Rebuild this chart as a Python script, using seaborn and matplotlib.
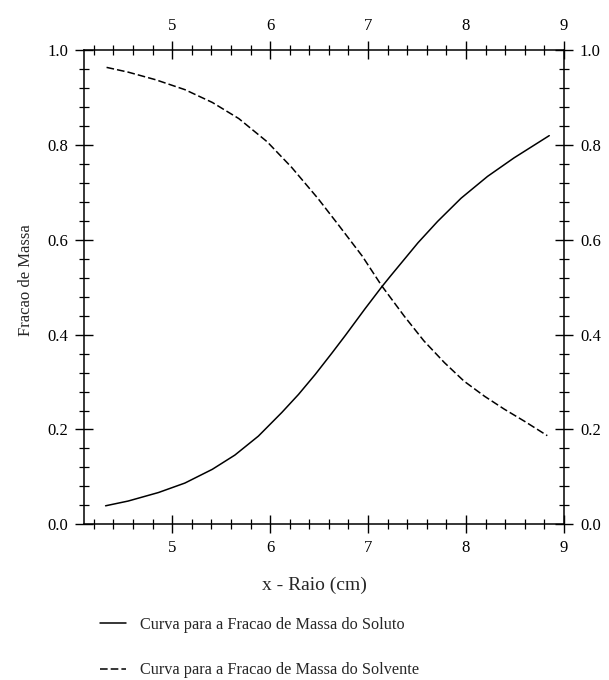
import numpy as np
import pandas as pd
import matplotlib
matplotlib.use("Agg")
import matplotlib.pyplot as plt
import seaborn as sns
from matplotlib.ticker import MultipleLocator

# ---- data ----
soluto_x = [4.32, 4.55, 4.86, 5.13, 5.41, 5.64, 5.88, 6.12, 6.29, 6.46, 6.63, 6.77,
            6.97, 7.14, 7.23, 7.51, 7.71, 7.95, 8.22, 8.49, 8.85]
soluto_y = [0.039, 0.049, 0.067, 0.087, 0.116, 0.146, 0.186, 0.236, 0.274, 0.316, 0.361, 0.399,
            0.455, 0.501, 0.524, 0.594, 0.639, 0.688, 0.734, 0.773, 0.820]

solvente_x = [4.33, 4.55, 4.83, 5.13, 5.41, 5.68, 5.97, 6.22, 6.49, 6.70, 6.94, 7.14,
              7.37, 7.57, 7.78, 7.98, 8.19, 8.39, 8.60, 8.83]
solvente_y = [0.964, 0.954, 0.938, 0.917, 0.890, 0.856, 0.807, 0.753, 0.687, 0.631, 0.566, 0.503,
              0.439, 0.387, 0.341, 0.302, 0.270, 0.243, 0.217, 0.187]

label_soluto = "Curva para a Fracao de Massa do Soluto"
label_solvente = "Curva para a Fracao de Massa do Solvente"
x_label = "x - Raio (cm)"
y_label = "Fracao de Massa"

sns.set_style("white")
plt.rcParams["font.family"] = ["Liberation Serif", "DejaVu Serif"]

fig = plt.figure(figsize=(6.09, 6.8), dpi=100)
ax = fig.add_axes([0.138, 0.229, 0.788, 0.697])

df_sol = pd.DataFrame({"x": soluto_x, "y": soluto_y})
df_solv = pd.DataFrame({"x": solvente_x, "y": solvente_y})

sns.lineplot(data=df_sol, x="x", y="y", ax=ax, color="black", lw=1.1,
             sort=False, label=label_soluto, solid_joinstyle="round")
sns.lineplot(data=df_solv, x="x", y="y", ax=ax, color="black", lw=1.1,
             sort=False, label=label_solvente, linestyle=(0, (5, 2)),
             dash_joinstyle="round")

ax.set_xlim(4.1, 9.0)
ax.set_ylim(0.0, 1.0)
ax.xaxis.set_major_locator(MultipleLocator(1))
ax.xaxis.set_minor_locator(MultipleLocator(0.2))
ax.yaxis.set_major_locator(MultipleLocator(0.2))
ax.yaxis.set_minor_locator(MultipleLocator(0.04))
ax.yaxis.set_major_formatter(matplotlib.ticker.FormatStrFormatter("%.1f"))

ax.tick_params(which="both", direction="inout", top=True, right=True,
               bottom=True, left=True,
               labeltop=True, labelright=True, labelbottom=True, labelleft=True,
               labelsize=12, colors="black")
ax.tick_params(which="major", length=13, width=1.0, pad=5)
ax.tick_params(which="minor", length=6.5, width=0.9)

for s in ax.spines.values():
    s.set_visible(True)
    s.set_color("black")
    s.set_linewidth(1.1)

ax.set_xlabel(x_label, fontsize=14)
ax.xaxis.set_label_coords(0.481, -0.129)
ax.xaxis.label.set_va("center")
ax.set_ylabel(y_label, fontsize=12)
ax.yaxis.set_label_coords(-0.12, 0.515)
ax.yaxis.label.set_va("center")

ax.get_legend().remove()
handles, labels = ax.get_legend_handles_labels()
fig.legend(handles, labels, loc="upper left",
           bbox_to_anchor=(100 / 609, 1 - 617 / 680), frameon=False,
           borderaxespad=0, borderpad=0, handlelength=1.6, handletextpad=0.85,
           labelspacing=1.8, fontsize=11.7)

fig.savefig("out.png", dpi=100, facecolor="white")
